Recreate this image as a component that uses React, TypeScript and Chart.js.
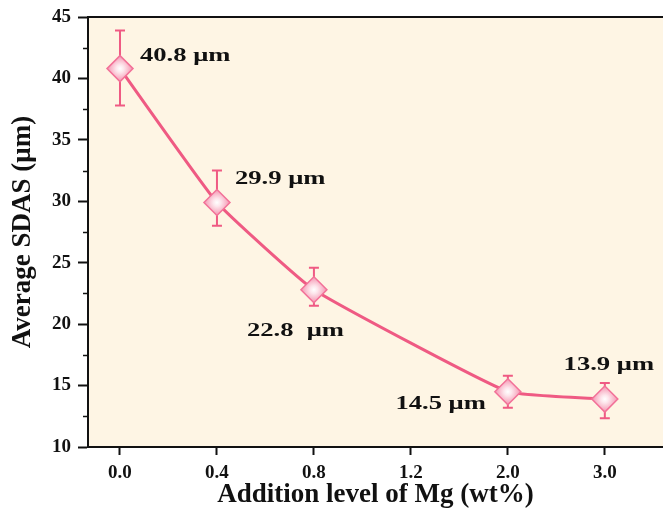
import React, { useEffect, useRef } from 'react';
import { Chart, registerables } from 'chart.js';

Chart.register(...registerables);

// ---- data ----
const xCategories = ['0.0', '0.4', '0.8', '1.2', '2.0', '3.0'];
const mgLevels = ['0.0', '0.4', '0.8', '2.0', '3.0'];
const sdasMean = [40.8, 29.9, 22.8, 14.5, 13.9];
const sdasUpper = [43.9, 32.5, 24.6, 15.8, 15.2];
const sdasLower = [37.8, 28.0, 21.5, 13.2, 12.35];
const pointLabels = ['40.8 μm', '29.9 μm', '22.8  μm', '14.5 μm', '13.9 μm'];
const yTickValues = [10, 15, 20, 25, 30, 35, 40, 45];
const yMinorTickValues = [12.5, 17.5, 22.5, 27.5, 32.5, 37.5, 42.5];

// ---- styles ----
const FONT = "'Liberation Serif', 'Times New Roman', serif";
const INK = '#111111';
const PINK = '#ef5a83';
const PLOT_BG = '#fef5e4';
const labelPlacement = [
  { dx: 20, dy: -13, align: 'left' },
  { dx: 18, dy: -23, align: 'left' },
  { dx: -67, dy: 41, align: 'left' },
  { dx: -22, dy: 12, align: 'right' },
  { dx: 4, dy: -34, align: 'center' },
];

const decorPlugin = {
  id: 'sdasDecor',
  beforeDraw(chart: any) {
    const { ctx, chartArea: a } = chart;
    ctx.save();
    ctx.fillStyle = PLOT_BG;
    ctx.fillRect(a.left, a.top, a.right - a.left, a.bottom - a.top);
    ctx.restore();
  },
  beforeDatasetsDraw(chart: any) {
    const { ctx } = chart;
    const xs = chart.scales.x;
    const ys = chart.scales.y;
    ctx.save();
    ctx.strokeStyle = PINK;
    ctx.lineWidth = 2;
    mgLevels.forEach((lvl, i) => {
      const x = xs.getPixelForValue(xCategories.indexOf(lvl));
      const yt = ys.getPixelForValue(sdasUpper[i]);
      const yb = ys.getPixelForValue(sdasLower[i]);
      ctx.beginPath();
      ctx.moveTo(x, yt);
      ctx.lineTo(x, yb);
      ctx.moveTo(x - 5, yt);
      ctx.lineTo(x + 5, yt);
      ctx.moveTo(x - 5, yb);
      ctx.lineTo(x + 5, yb);
      ctx.stroke();
    });
    ctx.restore();
  },
  afterDatasetsDraw(chart: any) {
    const { ctx } = chart;
    const meta = chart.getDatasetMeta(0);
    ctx.save();
    ctx.fillStyle = INK;
    ctx.font = `bold 19px ${FONT}`;
    ctx.textBaseline = 'middle';
    meta.data.forEach((pt: any, i: number) => {
      const p = labelPlacement[i];
      ctx.save();
      ctx.translate(pt.x + p.dx, pt.y + p.dy);
      ctx.scale(1.4, 1);
      ctx.textAlign = p.align as CanvasTextAlign;
      ctx.fillText(pointLabels[i], 0, 0);
      ctx.restore();
    });
    ctx.restore();
  },
  afterDraw(chart: any) {
    const { ctx, chartArea: a } = chart;
    const ys = chart.scales.y;
    ctx.save();
    ctx.strokeStyle = INK;
    ctx.lineWidth = 2;
    ctx.beginPath();
    ctx.moveTo(a.left - 1, a.top);
    ctx.lineTo(a.right, a.top);
    ctx.stroke();
    ctx.lineWidth = 1.5;
    yMinorTickValues.forEach((v) => {
      const y = Math.round(ys.getPixelForValue(v)) + 0.5;
      ctx.beginPath();
      ctx.moveTo(a.left - 5, y);
      ctx.lineTo(a.left, y);
      ctx.stroke();
    });
    ctx.restore();
  },
};

export default function App() {
  const ref = useRef<HTMLCanvasElement | null>(null);

  useEffect(() => {
    if (!ref.current) return;
    const chart = new Chart(ref.current, {
      type: 'line',
      data: {
        datasets: [
          {
            data: mgLevels.map((lvl, i) => ({ x: xCategories.indexOf(lvl), y: sdasMean[i] })),
            borderColor: PINK,
            borderWidth: 3,
            tension: 0.12,
            pointStyle: 'rectRot',
            pointRadius: 13,
            pointBorderWidth: 1.5,
            pointBorderColor: '#f27198',
            pointBackgroundColor: (c: any) => {
              const ch = c.chart;
              const p = c.parsed;
              if (!p || !ch.chartArea || !ch.scales.x) return '#f8b6c8';
              const x = ch.scales.x.getPixelForValue(p.x);
              const y = ch.scales.y.getPixelForValue(p.y);
              const g = ch.ctx.createRadialGradient(x, y, 0, x, y, 13);
              g.addColorStop(0, '#ffffff');
              g.addColorStop(0.3, '#fde6ec');
              g.addColorStop(1, '#f592af');
              return g;
            },
          } as any,
        ],
      },
      options: {
        responsive: false,
        animation: false,
        devicePixelRatio: 1,
        layout: { autoPadding: false, padding: { top: 17, right: 0, bottom: 0, left: 0 } },
        plugins: { legend: { display: false }, tooltip: { enabled: false } },
        scales: {
          x: {
            type: 'linear',
            min: -0.33,
            max: 5.6,
            afterBuildTicks: (s: any) => {
              s.ticks = xCategories.map((_, i) => ({ value: i }));
            },
            afterFit: (s: any) => {
              s.height = 64;
              s.paddingLeft = 0;
              s.paddingRight = 0;
            },
            ticks: {
              autoSkip: false,
              maxRotation: 0,
              padding: 7,
              color: INK,
              font: { family: FONT, size: 19, weight: 'bold' },
              callback: (v: any) => xCategories[Math.round(Number(v))] ?? '',
            },
            grid: { drawOnChartArea: false, tickLength: 8, tickWidth: 2, tickColor: INK },
            border: { color: INK, width: 2 },
            title: {
              display: true,
              text: 'Addition level of Mg (wt%)',
              color: INK,
              font: { family: FONT, size: 27, weight: 'bold' },
              padding: { top: 0, bottom: 0 },
            },
          },
          y: {
            min: 10,
            max: 45,
            afterBuildTicks: (s: any) => {
              s.ticks = yTickValues.map((v) => ({ value: v }));
            },
            afterFit: (s: any) => {
              s.width = 88;
              s.paddingTop = 0;
              s.paddingBottom = 0;
            },
            ticks: {
              padding: 7,
              color: INK,
              font: { family: FONT, size: 19, weight: 'bold' },
            },
            grid: { drawOnChartArea: false, tickLength: 10, tickWidth: 2, tickColor: INK },
            border: { color: INK, width: 2 },
            title: {
              display: true,
              text: 'Average SDAS (μm)',
              color: INK,
              font: { family: FONT, size: 27, weight: 'bold' },
              padding: { top: 7, bottom: 0 },
            },
          },
        },
      } as any,
      plugins: [decorPlugin],
    });
    return () => chart.destroy();
  }, []);

  return (
    <div style={{ position: 'absolute', left: 0, top: 0, width: 663, height: 511, background: '#ffffff' }}>
      <canvas ref={ref} width={663} height={511} style={{ display: 'block', width: '663px', height: '511px' }} />
    </div>
  );
}
